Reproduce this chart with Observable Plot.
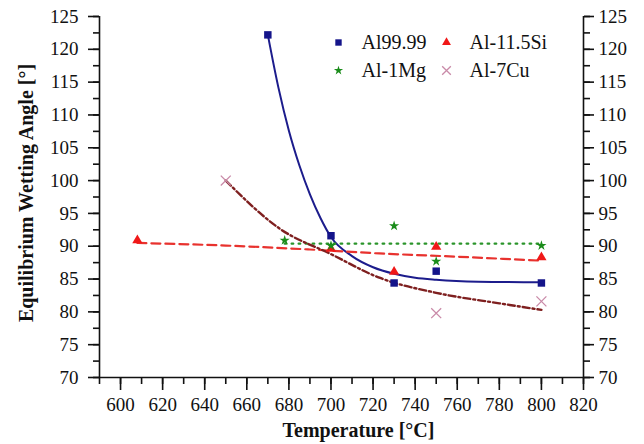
<!DOCTYPE html>
<html>
<head>
<meta charset="utf-8">
<script src="https://cdn.jsdelivr.net/npm/d3@7"></script>
<script src="https://cdn.jsdelivr.net/npm/@observablehq/plot@0.6"></script>
<style>
  html, body { margin: 0; padding: 0; background: #fff; }
  #chart { width: 644px; height: 444px; }
  #chart svg, #chart svg text { font-family: "Liberation Serif", "DejaVu Serif", serif !important; }
</style>
</head>
<body>
<div id="chart"></div>
<script>
// ---- data ----
const seriesNames = ["Al99.99", "Al-11.5Si", "Al-1Mg", "Al-7Cu"];

const al9999X = [670, 700, 730, 750, 800];
const al9999Y = [122.2, 91.6, 84.4, 86.2, 84.4];
const siX = [608, 700, 730, 750, 800];
const siY = [90.9, 89.6, 86.1, 89.9, 88.3];
const mgX = [678, 700, 730, 750, 800];
const mgY = [90.9, 90.1, 93.1, 87.7, 90.1];
const cuX = [650, 750, 800];
const cuY = [100.0, 79.8, 81.6];

// fitted trend lines
const fitAlX = [670, 675, 680, 685, 690, 695, 700, 710, 720, 730, 740, 750, 770, 800];
const fitAlY = [122.2, 114.2, 107.6, 102.3, 97.9, 94.3, 91.4, 88.5, 86.8, 85.8, 85.2, 84.9, 84.6, 84.5];
const fitSiX = [608, 650, 690, 723, 760, 800];
const fitSiY = [90.5, 90.1, 89.5, 88.9, 88.4, 87.8];
const fitMgX = [678, 800];
const fitMgY = [90.4, 90.4];
const fitCuX = [650, 676, 700, 723, 750, 780, 800];
const fitCuY = [100.0, 92.6, 88.8, 85.2, 82.9, 81.3, 80.3];

const xDomain = [590, 820];
const yDomain = [70, 125];
const xTicks = [600, 620, 640, 660, 680, 700, 720, 740, 760, 780, 800, 820];
const yTicks = [70, 75, 80, 85, 90, 95, 100, 105, 110, 115, 120, 125];

const xLabel = "Temperature [°C]";
const yLabel = "Equilibrium Wetting Angle [°]";

// ---- build tables ----
const FONT = "Liberation Serif";
const pts = (xs, ys) => xs.map((x, i) => ({x, y: ys[i]}));
const xMinor = d3.range(xDomain[0], xDomain[1] + 1, 10);
const yMinor = d3.range(yDomain[0], yDomain[1] + 0.1, 2.5);

const styles = {
  "Al99.99":   {symbol: "square",   color: "#14148a", r: 4.2, lr: 3.6, line: {stroke: "#1c1c8c", strokeWidth: 2}},
  "Al-11.5Si": {symbol: "triangle", color: "#f01818", r: 3.8, lr: 3.3, line: {stroke: "#e8322e", strokeWidth: 2.2, strokeDasharray: "9,5"}},
  "Al-1Mg":    {symbol: "star",     color: "#1a8c1a", r: 3.2, lr: 2.9, line: {stroke: "#2a942a", strokeWidth: 2.4, strokeDasharray: "1.5,5.5", strokeLinecap: "round"}},
  "Al-7Cu":    {symbol: "times",    color: "#c98aa8", r: 4.6, lr: 4.0, line: {stroke: "#7e1f1f", strokeWidth: 2.4, strokeDasharray: "7,3,2,3"}}
};

const points = {
  "Al99.99": pts(al9999X, al9999Y),
  "Al-11.5Si": pts(siX, siY),
  "Al-1Mg": pts(mgX, mgY),
  "Al-7Cu": pts(cuX, cuY)
};
const fits = {
  "Al99.99": pts(fitAlX, fitAlY),
  "Al-11.5Si": pts(fitSiX, fitSiY),
  "Al-1Mg": pts(fitMgX, fitMgY),
  "Al-7Cu": pts(fitCuX, fitCuY)
};

const axisStyle = {stroke: "#111", strokeWidth: 1.6, fill: "#111", fontFamily: FONT, fontSize: 19, label: null};
const marks = [];
// axes lines
marks.push(Plot.ruleX(xDomain, {stroke: "#111", strokeWidth: 1.6}));
marks.push(Plot.ruleY([yDomain[0]], {stroke: "#111", strokeWidth: 1.6}));
// x axis
marks.push(Plot.axisX(xTicks, {anchor: "bottom", tickSize: 13, tickPadding: 7, ...axisStyle}));
marks.push(Plot.axisX(xMinor, {anchor: "bottom", tickSize: 7, text: null, ...axisStyle}));
// left y axis
marks.push(Plot.axisY(yTicks, {anchor: "left", tickSize: 11, tickPadding: 10, ...axisStyle}));
marks.push(Plot.axisY(yMinor, {anchor: "left", tickSize: 6, text: null, ...axisStyle}));
// right y axis
marks.push(Plot.axisY(yTicks, {anchor: "right", tickSize: 10, tickPadding: 5, ...axisStyle}));
marks.push(Plot.axisY(yMinor, {anchor: "right", tickSize: 6, text: null, ...axisStyle}));

// fit lines
for (const name of seriesNames) {
  marks.push(Plot.line(fits[name], {x: "x", y: "y", curve: "monotone-x", ...styles[name].line}));
}
// data points
for (const name of seriesNames) {
  const s = styles[name];
  const stroked = s.symbol === "times";
  marks.push(Plot.dot(points[name], {
    x: "x", y: "y", symbol: () => s.symbol, r: s.r,
    ...(stroked ? {stroke: s.color, strokeWidth: 1.3, fill: "none"} : {fill: s.color, stroke: "none"})
  }));
}

// legend (two columns, inside the frame)
seriesNames.forEach((name, i) => {
  const s = styles[name];
  const col = i % 2, row = Math.floor(i / 2);
  const dx = 239 + col * 108, dy = 26 + row * 28;
  const stroked = s.symbol === "times";
  marks.push(Plot.dot([name], {
    frameAnchor: "top-left", dx, dy, symbol: () => s.symbol, r: s.lr,
    ...(stroked ? {stroke: s.color, strokeWidth: 1.3, fill: "none"} : {fill: s.color, stroke: "none"})
  }));
  marks.push(Plot.text([name], {
    frameAnchor: "top-left", dx: dx + 23, dy: dy, text: d => d,
    textAnchor: "start", lineAnchor: "middle", fontSize: 20, fontFamily: FONT, fill: "#111"
  }));
});

// axis titles
marks.push(Plot.text([xLabel], {frameAnchor: "bottom", dx: 17, dy: 53, lineAnchor: "middle", textAnchor: "middle", text: d => d, fontWeight: "bold", fontSize: 20, fontFamily: FONT, fill: "#111"}));
marks.push(Plot.text([yLabel], {frameAnchor: "left", dx: -73, dy: -4, rotate: -90, lineAnchor: "middle", textAnchor: "middle", text: d => d, fontWeight: "bold", fontSize: 20, fontFamily: FONT, fill: "#111"}));

const chart = Plot.plot({
  width: 644,
  height: 444,
  marginTop: 16,
  marginRight: 61,
  marginBottom: 67,
  marginLeft: 99,
  x: {domain: xDomain, axis: null},
  y: {domain: yDomain, axis: null},
  style: {fontFamily: FONT, fontSize: "19px", background: "#fff", color: "#111"},
  marks
});
document.getElementById("chart").appendChild(chart);
</script>
</body>
</html>
